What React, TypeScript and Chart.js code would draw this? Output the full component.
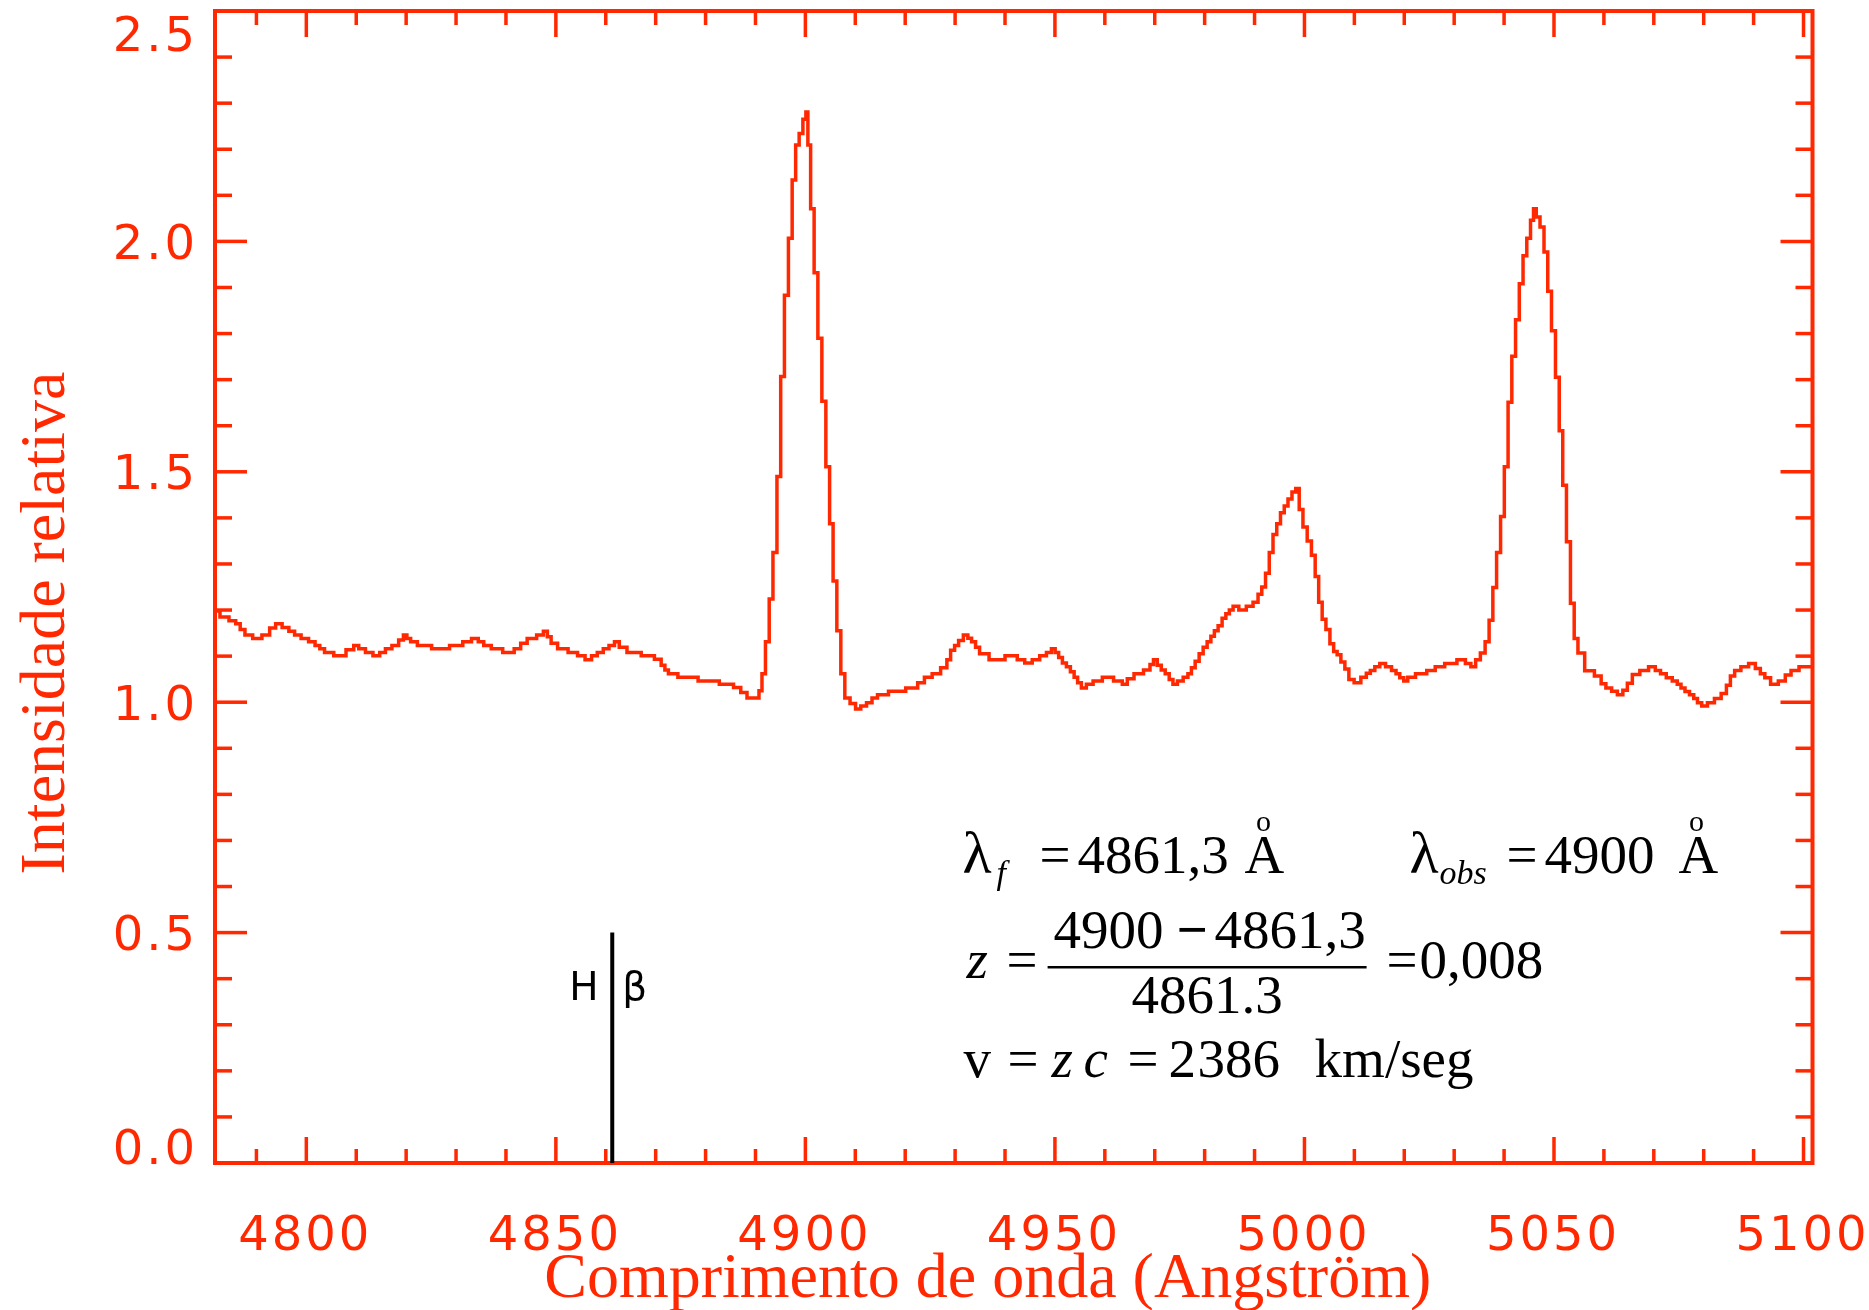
import React, { useEffect, useRef } from "react";
import { Chart, registerables } from "chart.js";

Chart.register(...registerables);

const RED = "#ff2800";

// [wavelength (Å), relative intensity]
const blueContinuum: [number, number][] = [
  [4781.7, 1.198], [4783.7, 1.185], [4785.3, 1.177], [4786.4, 1.17], [4787.1, 1.158],
  [4788.3, 1.146], [4790.2, 1.138], [4792.0, 1.146], [4793.3, 1.161], [4794.4, 1.17],
  [4795.9, 1.162], [4797.1, 1.154], [4798.2, 1.146], [4799.7, 1.138], [4801.2, 1.131],
  [4802.3, 1.123], [4803.1, 1.116], [4804.2, 1.108], [4806.8, 1.101], [4809.1, 1.114],
  [4809.9, 1.123], [4811.1, 1.116], [4812.6, 1.108], [4814.1, 1.101], [4815.3, 1.108],
  [4816.4, 1.116], [4817.9, 1.123], [4819.1, 1.135], [4819.8, 1.146], [4820.5, 1.138],
  [4821.3, 1.131], [4823.2, 1.123], [4827.0, 1.116], [4830.4, 1.123], [4832.3, 1.131],
  [4833.9, 1.138], [4835.0, 1.131], [4836.1, 1.123], [4838.0, 1.116], [4840.7, 1.108],
  [4842.6, 1.116], [4843.3, 1.128], [4845.2, 1.138], [4847.1, 1.146], [4847.9, 1.154],
  [4848.7, 1.142], [4849.4, 1.128], [4851.3, 1.116], [4853.6, 1.108], [4855.1, 1.101],
  [4856.6, 1.092], [4857.7, 1.101], [4858.9, 1.108], [4860.1, 1.116], [4861.2, 1.123],
  [4862.3, 1.131], [4863.1, 1.119], [4865.4, 1.108], [4868.8, 1.101], [4870.7, 1.093],
  [4871.5, 1.08], [4872.2, 1.07], [4872.9, 1.062], [4876.0, 1.054], [4881.0, 1.046],
  [4884.5, 1.039], [4886.7, 1.032], [4887.4, 1.021], [4889.2, 1.009], [4890.4, 1.009],
];

const hBetaLine: [number, number][] = [
  [4891.0, 1.025], [4891.6, 1.062], [4892.4, 1.131], [4893.1, 1.224], [4893.9, 1.325],
  [4894.7, 1.49], [4895.4, 1.707], [4896.2, 1.883], [4897.0, 2.007], [4897.7, 2.133],
  [4898.4, 2.209], [4899.1, 2.234], [4899.9, 2.265], [4900.3, 2.281], [4900.7, 2.209],
  [4901.4, 2.071], [4902.1, 1.932], [4902.9, 1.79], [4903.7, 1.653], [4904.5, 1.511],
  [4905.2, 1.387], [4905.9, 1.263], [4906.7, 1.155], [4907.5, 1.062], [4908.3, 1.009],
];

const midContinuum: [number, number][] = [
  [4909.6, 0.997], [4910.5, 0.985], [4911.7, 0.992], [4912.8, 0.999], [4913.9, 1.009],
  [4915.0, 1.016], [4918.3, 1.024], [4921.9, 1.031], [4923.1, 1.042], [4924.6, 1.054],
  [4926.2, 1.062], [4928.0, 1.075], [4928.7, 1.092], [4929.5, 1.113], [4930.3, 1.123],
  [4931.1, 1.134], [4932.2, 1.146], [4932.9, 1.139], [4933.7, 1.131], [4934.5, 1.119],
  [4935.3, 1.105], [4938.3, 1.092], [4941.7, 1.101], [4943.2, 1.092], [4944.7, 1.085],
  [4946.2, 1.092], [4947.7, 1.101], [4948.9, 1.108], [4949.7, 1.116], [4950.4, 1.108],
  [4951.1, 1.097], [4951.9, 1.085], [4952.7, 1.077], [4953.5, 1.066], [4954.2, 1.054],
  [4954.9, 1.042], [4955.7, 1.031], [4956.9, 1.039], [4958.4, 1.046], [4960.6, 1.054],
  [4962.9, 1.046], [4964.1, 1.039], [4964.9, 1.051], [4966.8, 1.062], [4968.7, 1.07],
  [4969.4, 1.082], [4970.1, 1.092], [4970.9, 1.08], [4971.7, 1.07], [4972.5, 1.062],
  [4973.3, 1.049], [4974.0, 1.039], [4975.1, 1.046], [4976.3, 1.054], [4977.0, 1.062],
  [4977.7, 1.075], [4978.5, 1.089], [4979.3, 1.105], [4980.1, 1.119], [4980.9, 1.131],
  [4981.6, 1.143], [4982.3, 1.155], [4983.1, 1.166], [4983.9, 1.182], [4984.6, 1.192],
  [4985.3, 1.2], [4986.1, 1.208], [4987.6, 1.2], [4989.1, 1.208],
];

const oiii4959Line: [number, number][] = [
  [4990.3, 1.217], [4991.1, 1.234], [4991.8, 1.25], [4992.6, 1.28], [4993.3, 1.325],
  [4994.1, 1.364], [4994.8, 1.387], [4995.6, 1.411], [4996.3, 1.426], [4997.1, 1.441],
  [4997.9, 1.456], [4998.6, 1.464], [4999.3, 1.418], [5000.1, 1.38], [5001.0, 1.35],
  [5001.8, 1.319], [5002.5, 1.273], [5003.2, 1.217], [5003.9, 1.18], [5004.7, 1.158],
  [5005.5, 1.127], [5006.2, 1.11], [5006.9, 1.103], [5007.7, 1.087], [5008.5, 1.072],
  [5009.3, 1.049],
];

const interContinuum: [number, number][] = [
  [5010.6, 1.042], [5012.0, 1.054], [5012.8, 1.063], [5013.6, 1.069], [5014.6, 1.077],
  [5015.6, 1.084], [5016.9, 1.077], [5018.0, 1.069], [5018.7, 1.062], [5019.5, 1.053],
  [5020.3, 1.046], [5021.1, 1.054], [5023.4, 1.062], [5025.6, 1.069], [5026.8, 1.077],
  [5029.4, 1.084], [5031.7, 1.092], [5032.8, 1.084], [5033.9, 1.077], [5034.7, 1.092],
];

const oiii5007Line: [number, number][] = [
  [5035.8, 1.107], [5036.6, 1.131], [5037.4, 1.178], [5038.1, 1.249], [5038.9, 1.325],
  [5039.7, 1.403], [5040.4, 1.511], [5041.2, 1.651], [5041.9, 1.751], [5042.7, 1.83],
  [5043.4, 1.908], [5044.2, 1.969], [5044.9, 2.007], [5045.7, 2.046], [5046.1, 2.071],
  [5046.8, 2.053], [5047.6, 2.031], [5048.4, 1.977], [5049.1, 1.892], [5049.9, 1.806],
  [5050.7, 1.705], [5051.4, 1.589], [5052.1, 1.471], [5052.9, 1.348], [5053.7, 1.215],
  [5054.4, 1.138], [5055.2, 1.107],
];

const redContinuum: [number, number][] = [
  [5057.1, 1.068], [5059.1, 1.057], [5059.8, 1.04], [5061.0, 1.031], [5062.1, 1.024],
  [5063.3, 1.016], [5064.3, 1.026], [5065.1, 1.041], [5066.3, 1.06], [5068.1, 1.069],
  [5069.8, 1.077], [5070.8, 1.069], [5071.9, 1.062], [5073.1, 1.053], [5074.3, 1.046],
  [5075.1, 1.039], [5075.8, 1.031], [5076.7, 1.023], [5077.6, 1.016], [5078.4, 1.008],
  [5079.1, 0.999], [5080.1, 0.992], [5081.4, 0.999], [5082.9, 1.008], [5084.1, 1.019],
  [5085.0, 1.037], [5085.7, 1.057], [5086.7, 1.069], [5088.2, 1.077], [5089.8, 1.084],
  [5090.9, 1.073], [5091.8, 1.062], [5092.7, 1.053], [5094.1, 1.039], [5095.8, 1.046],
  [5096.9, 1.059], [5098.1, 1.069], [5100.1, 1.077], [5101.8, 1.077],
];

const spectrum: [number, number][] = [
  ...blueContinuum, ...hBetaLine, ...midContinuum, ...oiii4959Line,
  ...interContinuum, ...oiii5007Line, ...redContinuum,
];

// H-beta rest wavelength marker
const hBetaMarker: [number, number][] = [[4861.3, 0], [4861.3, 0.5]];
const hBetaLabelH: [number, number] = [4852.7, 0.354];
const hBetaLabelBeta: [number, number] = [4863.3, 0.354];

// axes
const X_MIN = 4781.7;
const X_MAX = 5101.8;
const Y_MIN = 0;
const Y_MAX = 2.5;
const xMajorTicks = [4800, 4850, 4900, 4950, 5000, 5050, 5100];
const xTickLabels = ["4800", "4850", "4900", "4950", "5000", "5050", "5100"];
const xMinorTicks = [
  4790, 4810, 4820, 4830, 4840, 4860, 4870, 4880, 4890, 4910, 4920, 4930, 4940,
  4960, 4970, 4980, 4990, 5010, 5020, 5030, 5040, 5060, 5070, 5080, 5090,
];
const yMajorTicks = [0, 0.5, 1.0, 1.5, 2.0, 2.5];
const yTickLabels = ["0.0", "0.5", "1.0", "1.5", "2.0", "2.5"];
const yMinorTicks = [
  0.1, 0.2, 0.3, 0.4, 0.6, 0.7, 0.8, 0.9, 1.1, 1.2, 1.3, 1.4, 1.6, 1.7, 1.8, 1.9,
  2.1, 2.2, 2.3, 2.4,
];
const xTitle = "Comprimento de onda (Angström)";
const yTitle = "Intensidade relativa";

// annotation anchor (wavelength, intensity of each text row baseline)
const noteWavelength = 4931.7;
const noteRows = [0.6293, 0.4015, 0.1866];

const SERIF = "'Liberation Serif', 'Times New Roman', serif";
const SANS = "'DejaVu Sans', sans-serif";

const framePlugin = {
  id: "idlFrame",
  beforeDatasetsDraw(chart: any) {
    const { ctx, chartArea: a, scales } = chart;
    const xs = scales.x;
    const ys = scales.y;
    ctx.save();
    ctx.strokeStyle = RED;
    ctx.lineWidth = 4;
    ctx.lineCap = "square";
    ctx.strokeRect(a.left, a.top, a.right - a.left, a.bottom - a.top);
    ctx.lineCap = "butt";
    ctx.lineWidth = 3.5;
    const seg = (x1: number, y1: number, x2: number, y2: number) => {
      ctx.beginPath();
      ctx.moveTo(x1, y1);
      ctx.lineTo(x2, y2);
      ctx.stroke();
    };
    const xTick = (v: number, len: number) => {
      const px = xs.getPixelForValue(v);
      seg(px, a.bottom, px, a.bottom - len);
      seg(px, a.top, px, a.top + len);
    };
    const yTick = (v: number, len: number) => {
      const py = ys.getPixelForValue(v);
      seg(a.left, py, a.left + len, py);
      seg(a.right, py, a.right - len, py);
    };
    xMajorTicks.forEach((v) => xTick(v, 26));
    xMinorTicks.forEach((v) => xTick(v, 14));
    yMajorTicks.forEach((v) => {
      if (v > Y_MIN && v < Y_MAX) yTick(v, 32);
    });
    yMinorTicks.forEach((v) => yTick(v, 17));
    ctx.restore();
  },
  afterDraw(chart: any) {
    const { ctx, chartArea: a, scales } = chart;
    const xs = scales.x;
    const ys = scales.y;
    ctx.save();
    // tick labels
    ctx.fillStyle = RED;
    ctx.font = `48px ${SANS}`;
    (ctx as any).letterSpacing = "3px";
    ctx.textBaseline = "alphabetic";
    ctx.textAlign = "center";
    xMajorTicks.forEach((v, i) => {
      ctx.fillText(xTickLabels[i], xs.getPixelForValue(v) - 1, a.bottom + 87);
    });
    ctx.textAlign = "right";
    yMajorTicks.forEach((v, i) => {
      let cy = ys.getPixelForValue(v);
      cy = Math.max(a.top + 22, Math.min(a.bottom - 17, cy));
      ctx.fillText(yTickLabels[i], a.left - 17, cy + 17.5);
    });
    (ctx as any).letterSpacing = "0px";

    // axis titles
    ctx.font = `64px ${SERIF}`;
    ctx.textAlign = "center";
    ctx.fillText(xTitle, (a.left + a.right) / 2 - 26, a.bottom + 134);
    ctx.save();
    ctx.translate(a.left - 151, (a.top + a.bottom) / 2 + 36);
    ctx.rotate(-Math.PI / 2);
    ctx.fillText(yTitle, 0, 0);
    ctx.restore();

    // H beta label
    ctx.fillStyle = "#000";
    ctx.font = `39px ${SANS}`;
    ctx.textAlign = "left";
    ctx.fillText("H", xs.getPixelForValue(hBetaLabelH[0]), ys.getPixelForValue(hBetaLabelH[1]));
    ctx.fillText("β", xs.getPixelForValue(hBetaLabelBeta[0]), ys.getPixelForValue(hBetaLabelBeta[1]));

    // redshift annotation
    const x0 = xs.getPixelForValue(noteWavelength);
    const [r1, r2, r3] = noteRows.map((v) => ys.getPixelForValue(v));
    const up = `55px ${SERIF}`;
    const it = `italic 55px ${SERIF}`;
    const sub = `italic 34px ${SERIF}`;
    const ring = `30px ${SERIF}`;
    const put = (t: string, dx: number, y: number, f: string) => {
      ctx.font = f;
      ctx.fillText(t, x0 + dx, y);
    };
    // row 1
    put("λ", -1, r1, `60px ${SERIF}`);
    put("f", 33, r1 + 11, sub);
    put("=", 76, r1, up);
    put("4861,3", 114, r1, up);
    put("A", 281, r1, up);
    ctx.textAlign = "center";
    put("o", 300, r1 - 42, ring);
    ctx.textAlign = "left";
    put("λ", 446, r1, `60px ${SERIF}`);
    put("obs", 476, r1 + 11, sub);
    put("=", 543, r1, up);
    put("4900", 581, r1, up);
    put("A", 715, r1, up);
    ctx.textAlign = "center";
    put("o", 733, r1 - 42, ring);
    ctx.textAlign = "left";
    // row 2
    put("z", 3, r2, it);
    put("=", 43, r2, up);
    put("4900", 90, r2 - 30, up);
    put("\u2212", 213, r2 - 30, `bold 55px ${SERIF}`);
    put("4861,3", 251, r2 - 30, up);
    ctx.fillStyle = "#000";
    ctx.fillRect(x0 + 84, r2 - 12, 319, 2.5);
    put("4861.3", 168, r2 + 35, up);
    put("=", 423, r2, up);
    put("0,008", 456, r2, up);
    // row 3
    put("v", 0, r3, up);
    put("=", 44, r3, up);
    put("z", 88, r3, it);
    put("c", 120, r3, it);
    put("=", 164, r3, up);
    put("2", 205, r3, up);
    put("386", 234, r3, up);
    put("km/seg", 351, r3, up);
    ctx.restore();
  },
};

export default function App() {
  const ref = useRef<HTMLCanvasElement>(null);
  useEffect(() => {
    document.body.style.margin = "0";
    const chart = new Chart(ref.current as HTMLCanvasElement, {
      type: "line",
      data: {
        datasets: [
          {
            label: "Espectro",
            data: spectrum.map(([x, y]) => ({ x, y })),
            borderColor: RED,
            borderWidth: 3.5,
            pointRadius: 0,
            stepped: "middle",
            fill: false,
          },
          {
            label: "H beta",
            data: hBetaMarker.map(([x, y]) => ({ x, y })),
            borderColor: "#000",
            borderWidth: 4,
            pointRadius: 0,
            fill: false,
          },
        ],
      },
      options: {
        responsive: false,
        animation: false,
        events: [],
        layout: { padding: { left: 215, top: 11, right: 1869 - 1812.5, bottom: 1310 - 1163 } },
        scales: {
          x: { type: "linear", min: X_MIN, max: X_MAX, display: false },
          y: { type: "linear", min: Y_MIN, max: Y_MAX, display: false },
        },
        plugins: { legend: { display: false }, tooltip: { enabled: false } },
      },
      plugins: [framePlugin],
    } as any);
    return () => chart.destroy();
  }, []);
  return (
    <div style={{ position: "absolute", left: 0, top: 0, width: 1869, height: 1310, background: "#fff" }}>
      <canvas ref={ref} width={1869} height={1310} style={{ display: "block" }} />
    </div>
  );
}
